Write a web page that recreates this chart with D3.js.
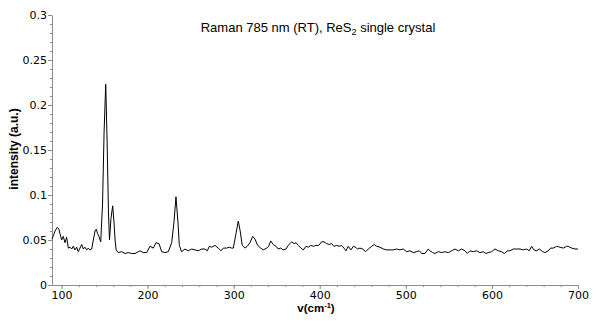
<!DOCTYPE html>
<html><head><meta charset="utf-8">
<script src="https://cdn.jsdelivr.net/npm/d3@7"></script>
<style>
html,body{margin:0;padding:0;background:#fff;}
svg{display:block;}
</style></head>
<body>
<svg id="chart" width="600" height="328"></svg>
<script>
// ---- data ----
const wavenumbers = [
  89,91,93,95.2,97,98.3,100.2,102.1,104.1,106,108,109.9,111.9,113.7,115.7,117.7,119.5,121.5,123.5,125.4,
  127.3,129.3,131.2,133.1,135.1,137,139,140.5,142,143.5,145.6,147.7,149.5,151.4,153,154.6,155.8,157.5,159.5,161,
  162.3,163.5,166,170,173.8,177.6,181.6,185.4,191.2,195,199,202.8,206.7,209.8,213.3,216.4,220.2,224.1,228,230.7,
  233,235.3,236.9,239.6,243.5,247.3,251.3,255.1,258.9,262.9,266.7,269.4,271.7,274.5,278.3,282.2,285.3,288,291.9,294.9,
  297.7,299.6,302.7,305.4,307.4,310,313.2,315.8,319,322.1,324.8,327.9,331.4,334.4,338.4,340.7,343,346,349.2,351.8,
  354.6,357.6,360.8,363.5,365.4,367.4,370.1,372.4,375.1,378.2,380.9,384,386.7,389.5,392.5,395.6,398.8,402.2,404.9,408,
  411.1,413.9,416.5,419.7,422.7,425.5,428.1,430.5,433.1,436.3,439,441.3,444.1,446.7,449.9,453.3,456.4,460.3,463.3,466.1,
  470,473.8,477.7,481.6,485.4,489.3,493.2,497,501,504.8,508.6,512.6,515.6,518.4,522.2,526,528,531.2,533.8,537.7,
  541.6,545.4,549.3,553.2,557,560.9,564.8,568.7,571.4,574.5,578.3,582.3,586.1,590,593,595.7,599.7,603.5,607.4,611.3,
  614.3,618.3,620.9,624.8,628.7,632.6,636.4,640.3,643.4,646.1,648.8,652,655,659,661.6,665.4,668.2,671.2,675.2,679,
  682.9,686.8,688.6,692.6,696.4,700
];
const intensity = [
  0.051,0.056,0.061,0.064,0.062,0.057,0.050,0.054,0.047,0.053,0.041,0.042,0.040,0.043,0.039,0.042,0.037,0.041,0.045,0.040,
  0.042,0.039,0.041,0.039,0.040,0.050,0.060,0.062,0.057,0.054,0.048,0.090,0.170,0.223,0.160,0.080,0.050,0.074,0.088,0.070,
  0.050,0.039,0.036,0.037,0.035,0.036,0.035,0.035,0.038,0.036,0.036,0.043,0.041,0.047,0.046,0.037,0.036,0.037,0.047,0.070,
  0.098,0.070,0.044,0.037,0.040,0.038,0.040,0.039,0.038,0.040,0.040,0.038,0.043,0.042,0.044,0.041,0.038,0.041,0.041,0.042,
  0.041,0.041,0.057,0.071,0.061,0.044,0.041,0.043,0.047,0.054,0.051,0.044,0.041,0.039,0.041,0.043,0.049,0.045,0.043,0.040,
  0.041,0.039,0.040,0.044,0.046,0.048,0.046,0.047,0.044,0.041,0.039,0.043,0.042,0.044,0.043,0.044,0.044,0.048,0.048,0.046,
  0.045,0.046,0.043,0.044,0.043,0.044,0.041,0.038,0.043,0.039,0.043,0.042,0.040,0.041,0.040,0.037,0.040,0.043,0.045,0.043,
  0.042,0.040,0.039,0.039,0.039,0.040,0.039,0.040,0.037,0.038,0.036,0.037,0.038,0.035,0.035,0.040,0.038,0.036,0.035,0.037,
  0.036,0.037,0.036,0.038,0.040,0.038,0.040,0.038,0.035,0.038,0.037,0.038,0.036,0.037,0.035,0.036,0.037,0.040,0.038,0.037,
  0.035,0.038,0.038,0.040,0.040,0.040,0.039,0.040,0.038,0.043,0.039,0.038,0.040,0.037,0.036,0.038,0.041,0.041,0.043,0.042,
  0.041,0.043,0.043,0.041,0.040,0.040
];
const xMajorTicks = [100,200,300,400,500,600,700];
const yMajorTicks = [0,0.05,0.1,0.15,0.2,0.25,0.3];
const yTickLabels = ["0","0.05","0.1","0.15","0.2","0.25","0.3"];
const titleText = "Raman 785 nm (RT), ReS";
const titleSub = "2";
const titleRest = " single crystal";
const yLabel = "intensity (a.u.)";

// ---- layout ----
const svg = d3.select("#chart");
const x = d3.scaleLinear().domain([89, 700]).range([52, 578]);
const y = d3.scaleLinear().domain([0, 0.3]).range([285, 15]);
const axisColor = "#8c8c8c";
const tickFont = "DejaVu Sans, Verdana, sans-serif";

// minor ticks
svg.append("g").attr("transform","translate(52,0)")
  .call(d3.axisLeft(y).tickValues(d3.range(0,0.3001,0.01)).tickSize(2).tickFormat(""))
  .call(g=>g.select(".domain").remove())
  .call(g=>g.selectAll("line").attr("stroke",axisColor));
svg.append("g").attr("transform","translate(0,285)")
  .call(d3.axisBottom(x).tickValues(d3.range(100,701,20)).tickSize(2).tickFormat(""))
  .call(g=>g.select(".domain").remove())
  .call(g=>g.selectAll("line").attr("stroke",axisColor));

// major axes
const yAxis = svg.append("g").attr("transform","translate(52,0)")
  .call(d3.axisLeft(y).tickValues(yMajorTicks).tickSize(4).tickSizeOuter(0)
    .tickFormat((d,i)=>yTickLabels[i]).tickPadding(1));
const xAxis = svg.append("g").attr("transform","translate(0,285)")
  .call(d3.axisBottom(x).tickValues(xMajorTicks).tickSize(4).tickSizeOuter(0).tickPadding(2));
[yAxis,xAxis].forEach(g=>{
  g.select(".domain").attr("stroke",axisColor);
  g.selectAll(".tick line").attr("stroke",axisColor);
  g.selectAll("text").attr("fill","#000").style("font-family",tickFont).style("font-size","11px");
});

// line
const line = d3.line().x((d,i)=>x(wavenumbers[i])).y(d=>y(d));
svg.append("path").datum(intensity)
  .attr("d", line).attr("fill","none").attr("stroke","#000").attr("stroke-width",1)
  .attr("stroke-linejoin","round");

// title
const t = svg.append("text").attr("x",318).attr("y",32).attr("text-anchor","middle")
  .style("font-family","Liberation Sans, Arial, sans-serif").style("font-size","13px").attr("fill","#000");
t.append("tspan").text(titleText);
t.append("tspan").attr("dy",3).style("font-size","9px").text(titleSub);
t.append("tspan").attr("dy",-3).text(titleRest);

// y label
svg.append("text").attr("transform","translate(18,149) rotate(-90)").attr("text-anchor","middle")
  .style("font-family","Liberation Sans, Arial, sans-serif").style("font-size","12px").style("font-weight","bold")
  .text(yLabel);

// x label
const xl = svg.append("text").attr("x",316).attr("y",312).attr("text-anchor","middle")
  .style("font-family","Liberation Sans, Arial, sans-serif").style("font-size","11.5px").style("font-weight","bold");
xl.append("tspan").text("v(cm");
xl.append("tspan").attr("dy",-4).style("font-size","7.5px").text("-1");
xl.append("tspan").attr("dy",4).text(")");
</script>
</body></html>
